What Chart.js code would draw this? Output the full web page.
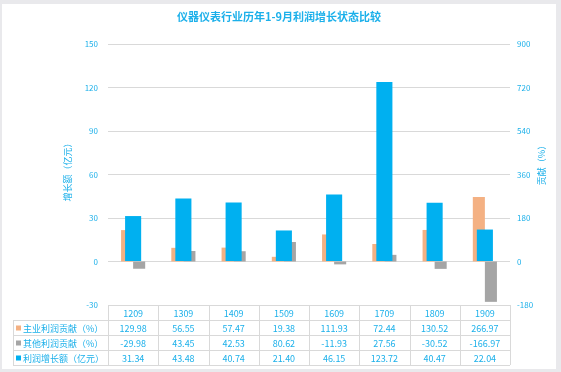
<!DOCTYPE html>
<html>
<head>
<meta charset="utf-8">
<script src="https://cdn.jsdelivr.net/npm/chart.js@4"></script>
<style>
  html, body { margin: 0; padding: 0; background: #e9e9ec; }
  #wrap { width: 561px; height: 372px; position: relative; }
</style>
</head>
<body>
<div id="wrap"><canvas id="profitChart" width="561" height="372"></canvas></div>
<script>
const years = ['1209', '1309', '1409', '1509', '1609', '1709', '1809', '1909'];
const mainShare = [129.98, 56.55, 57.47, 19.38, 111.93, 72.44, 130.52, 266.97];
const otherShare = [-29.98, 43.45, 42.53, 80.62, -11.93, 27.56, -30.52, -166.97];
const profitGrowth = [31.34, 43.48, 40.74, 21.40, 46.15, 123.72, 40.47, 22.04];

const rowNames = ['主业利润贡献（%）', '其他利润贡献（%）', '利润增长额（亿元）'];
const rowColors = ['#f4b183', '#a5a5a5', '#00b0f0'];
const textBlue = '#1cb0ea';
const font = '"Microsoft YaHei", "Noto Sans CJK SC", sans-serif';

const framePlugin = {
    id: 'frame',
    beforeDraw(chart) {
        const c = chart.ctx;
        c.save();
        c.fillStyle = '#e9e9ec';
        c.fillRect(0, 0, 561, 372);
        c.fillStyle = '#ffffff';
        c.fillRect(2, 4, 554, 365);
        c.restore();
    }
};

const tablePlugin = {
    id: 'dataTable',
    afterDraw(chart) {
        const c = chart.ctx;
        const x = chart.scales.x;
        const area = chart.chartArea;
        const rows = [mainShare, otherShare, profitGrowth];
        const top = area.bottom;
        const rowH = 15;
        const left = 13;
        c.save();

        // title
        c.fillStyle = textBlue;
        c.font = 'bold 11px ' + font;
        c.textAlign = 'center';
        c.textBaseline = 'middle';
        c.fillText('仪器仪表行业历年1-9月利润增长状态比较', 279, 17);

        // axis titles
        c.font = '9px ' + font;
        c.save();
        c.translate(68, 170);
        c.rotate(-Math.PI / 2);
        c.fillText('增长额（亿元）', 0, 0);
        c.restore();
        c.save();
        c.translate(542, 163);
        c.rotate(-Math.PI / 2);
        c.fillText('贡献（%）', 0, 0);
        c.restore();

        // grid lines of table
        c.strokeStyle = '#d9d9d9';
        c.lineWidth = 1;
        const colW = (area.right - area.left) / years.length;
        c.beginPath();
        c.moveTo(area.left, top + 0.5);
        c.lineTo(area.right, top + 0.5);
        for (let r = 1; r <= 4; r++) {
            const y = Math.round(top + r * rowH) + 0.5;
            c.moveTo(left, y);
            c.lineTo(area.right, y);
        }
        c.moveTo(left + 0.5, top + rowH);
        c.lineTo(left + 0.5, top + 4 * rowH);
        for (let i = 0; i <= years.length; i++) {
            const xx = Math.round(area.left + i * colW) + 0.5;
            c.moveTo(xx, top);
            c.lineTo(xx, top + 4 * rowH);
        }
        c.stroke();

        // header + values
        c.font = '9px ' + font;
        c.fillStyle = textBlue;
        c.textAlign = 'center';
        years.forEach((yr, i) => {
            const cx = x.getPixelForValue(i);
            c.fillText(yr, cx, top + rowH / 2 + 1);
            rows.forEach((vals, r) => {
                c.fillText(vals[i].toFixed(2), cx, top + (r + 1.5) * rowH + 1);
            });
        });

        // row labels
        c.textAlign = 'left';
        rowNames.forEach((name, r) => {
            const cy = top + (r + 1.5) * rowH;
            c.fillStyle = rowColors[r];
            c.fillRect(16, cy - 2, 5, 5);
            c.fillStyle = textBlue;
            c.fillText(name, 23, cy + 1);
        });
        c.restore();
    }
};

const ctx = document.getElementById('profitChart').getContext('2d');

const myChart = new Chart(ctx, {
    type: 'bar',
    data: {
        labels: years,
        datasets: [{
            label: '利润增长额（亿元）',
            data: profitGrowth,
            backgroundColor: '#00b0f0',
            yAxisID: 'y',
            order: 0,
            grouped: false,
            categoryPercentage: 1,
            barPercentage: 0.32,
        }, {
            label: '主业利润贡献（%）',
            data: mainShare,
            backgroundColor: '#f4b183',
            yAxisID: 'y2',
            order: 1,
            categoryPercentage: 0.48,
            barPercentage: 1,
        }, {
            label: '其他利润贡献（%）',
            data: otherShare,
            backgroundColor: '#a5a5a5',
            yAxisID: 'y2',
            order: 1,
            categoryPercentage: 0.48,
            barPercentage: 1,
        }],
    },
    plugins: [framePlugin, tablePlugin],
    options: {
        responsive: false,
        animation: false,
        layout: {
            padding: { left: 0, right: 0, top: 44, bottom: 67 }
        },
        plugins: {
            legend: { display: false },
            tooltip: { enabled: false },
            title: { display: false },
        },
        scales: {
            x: {
                display: false,
                offset: true,
            },
            y: {
                position: 'left',
                min: -30,
                max: 150,
                ticks: {
                    stepSize: 30,
                    color: textBlue,
                    font: { size: 8, family: font },
                    padding: 10,
                },
                grid: {
                    color: ctx => ctx.tick.value === -30 ? 'rgba(0,0,0,0)' : '#d9d9d9',
                    drawTicks: false,
                },
                border: { display: false },
                afterFit(scale) { scale.width = 108; },
            },
            y2: {
                position: 'right',
                min: -180,
                max: 900,
                ticks: {
                    stepSize: 180,
                    color: textBlue,
                    font: { size: 8, family: font },
                    padding: 7,
                },
                grid: { display: false, drawTicks: false },
                border: { display: false },
                afterFit(scale) { scale.width = 51; },
            }
        }
    }
});
</script>
</body>
</html>
